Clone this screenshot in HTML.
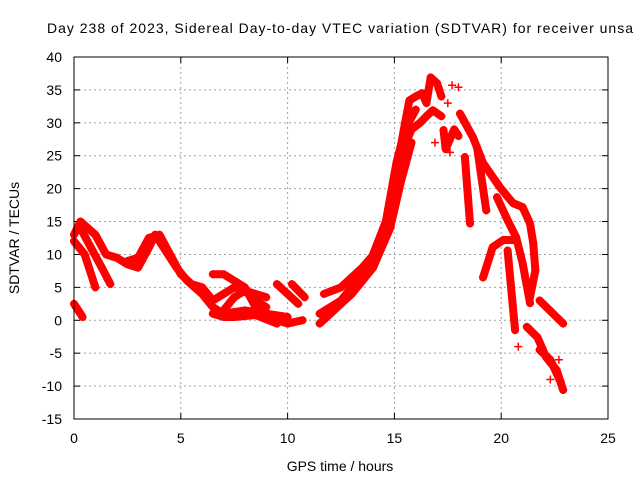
<!DOCTYPE html>
<html><head><meta charset="utf-8"><style>
body{margin:0;background:#fff}
svg{font-family:"Liberation Sans",sans-serif;font-size:14px}
</style></head><body>
<svg id="chart" width="640" height="480" viewBox="0 0 640 480" xmlns="http://www.w3.org/2000/svg">
<rect width="640" height="480" fill="#fff"/>
<text x="47" y="33" textLength="586" lengthAdjust="spacing">Day 238 of 2023, Sidereal Day-to-day VTEC variation (SDTVAR) for receiver unsa</text>
<g id="grid"></g>
<g id="ticks"></g>
<g id="marks"></g>
<rect x="74" y="57" width="534" height="362" fill="none" stroke="#000" stroke-width="1"/>
<text transform="translate(19,238) rotate(-90)" text-anchor="middle">SDTVAR / TECUs</text>
<text x="340" y="471" text-anchor="middle">GPS time / hours</text>
</svg>
<script>
const xTicks=[0,5,10,15,20,25];
const yTicks=[-15,-10,-5,0,5,10,15,20,25,30,35,40];
const trackA=[[0,13],[0.3,15],[1.0,13],[1.5,10],[2,9.5],[2.5,8.5],[3,8],[3.5,11],[3.8,13],[4.2,11],[4.8,8],[5.3,6],[6,4],[6.5,2],[7,1],[8,1.5],[9,1],[10,0.5]];
const trackB=[[0,12],[0.5,10],[1,5]];
const trackC=[[0.3,14],[1.3,8],[1.7,5.5]];
const trackD=[[0,2.5],[0.4,0.5]];
const trackE=[[2.5,9],[3,9.5],[3.5,12.5],[4,13],[4.5,10],[5,7],[5.5,5.5],[6,5],[6.5,3],[7,4],[7.5,5],[8,4.5],[8.5,3],[9,2]];
const trackF=[[6.5,1],[7,0.5],[7.5,0.5],[8.5,0.8],[9.5,-0.5]];
const trackG=[[6.5,7],[7,7],[7.5,6],[8,5],[8.5,2],[9,0.5],[9.5,0],[10,-0.5],[10.7,0]];
const trackH=[[7,1.5],[7.5,3.5],[8,4.5],[8.5,4],[9,3.5]];
const trackI=[[9.5,5.5],[10.5,2.5]];
const trackJ=[[10.2,5.5],[10.8,3.5]];
const trackK=[[11.5,1],[12,2],[12.5,3],[13,5],[13.5,7],[14,9],[14.5,13],[15,21],[15.5,30],[15.7,33.4],[16,34],[16.3,34.5],[16.5,33],[16.7,36.9],[17,36],[17.2,34]];
const trackL=[[11.7,4],[12.5,5],[13.5,8],[14.3,11],[14.8,17],[15.3,25],[15.8,29],[16.2,30],[16.5,31],[16.8,31.9],[17.2,31]];
const trackM=[[11.5,-0.5],[12,1],[13,4],[14,8],[14.8,14],[15.3,21],[15.8,27]];
const trackW=[[14,10],[14.6,15],[15.1,24],[15.5,29],[16,32]];
const trackN=[[18.07,31.4],[18.68,27.8],[19.15,23.9],[19.94,20.2],[20.55,17.8],[21.0,17.2],[21.35,14.7],[21.5,11.7],[21.6,7.6],[21.35,3.5]];
const trackO=[[18.87,26.3],[19.3,16.7]];
const trackP=[[19.8,18.7],[20.3,15.2],[20.7,12.6],[21.0,8.7],[21.35,2.6]];
const trackQ=[[19.15,6.5],[19.6,11.1],[20.1,12.2],[20.7,12.2]];
const trackR=[[20.3,10.6],[20.65,-1.5]];
const trackS=[[18.3,24.8],[18.54,14.7]];
const trackT=[[21.8,3],[22.9,-0.5]];
const trackU=[[21.2,-1],[21.7,-2.6],[22.1,-5.6],[22.6,-7.6],[22.9,-10.6]];
const trackX=[[21.8,-4.5],[22.3,-6],[22.8,-9.5]];
const trackV=[[17.3,28.9],[17.4,26],[17.8,29],[18,28]];
const scatterPts=[[17.7,35.7],[18.0,35.4],[17.5,33],[16.9,27],[17.6,25.5],[20.8,-4],[22.3,-9],[22.7,-6]];
const tracks=[trackA,trackB,trackC,trackD,trackE,trackF,trackG,trackH,trackI,trackJ,trackK,trackL,trackM,trackW,trackN,trackO,trackP,trackQ,trackR,trackS,trackT,trackU,trackX,trackV];
const NS="http://www.w3.org/2000/svg";
const x=t=>74+t*534/25;
const y=v=>419-(v+15)*362/55;
const grid=document.getElementById('grid'),ticks=document.getElementById('ticks'),marks=document.getElementById('marks');
function mk(tag,attrs,parent){const e=document.createElementNS(NS,tag);for(const k in attrs)e.setAttribute(k,attrs[k]);parent.appendChild(e);return e;}
xTicks.forEach(t=>{
 if(t>0&&t<25){const g=mk('line',{x1:x(t),x2:x(t),y1:57,y2:419,stroke:'#a0a0a0','stroke-dasharray':'2,3'},grid);
 
 }
 mk('line',{x1:x(t),x2:x(t),y1:419,y2:413,stroke:'#000'},ticks);
 mk('line',{x1:x(t),x2:x(t),y1:57,y2:63,stroke:'#000'},ticks);
 const l=mk('text',{x:x(t),y:443,'text-anchor':'middle'},ticks);l.textContent=t;
 
 
});
yTicks.forEach(v=>{
 if(v>-15&&v<40){const g=mk('line',{x1:74,x2:608,y1:y(v),y2:y(v),stroke:'#a0a0a0','stroke-dasharray':'2,3'},grid);
 
 }
 mk('line',{x1:74,x2:80,y1:y(v),y2:y(v),stroke:'#000'},ticks);
 mk('line',{x1:608,x2:602,y1:y(v),y2:y(v),stroke:'#000'},ticks);
 const l=mk('text',{x:62,y:y(v)+5,'text-anchor':'end'},ticks);l.textContent=v;
 
 
});
tracks.forEach(tr=>{
 const p=mk('polyline',{points:tr.map(d=>x(d[0])+','+y(d[1])).join(' '),fill:'none',stroke:'#ff0000','stroke-width':8,'stroke-linejoin':'round','stroke-linecap':'round'},marks);
 
 
});
scatterPts.concat(...tracks).forEach(d=>{
 const m=mk('path',{d:`M${x(d[0])-4},${y(d[1])}h8M${x(d[0])},${y(d[1])-4}v8`,stroke:'#ff0000','stroke-width':1.5},marks);
 
 
});
</script>
</body></html>
